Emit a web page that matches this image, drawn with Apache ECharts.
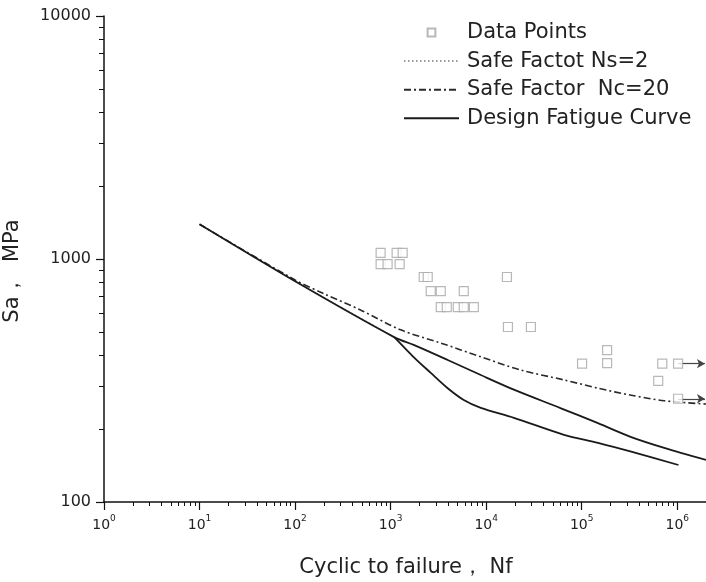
<!DOCTYPE html>
<html>
<head>
<meta charset="utf-8">
<script src="https://cdn.jsdelivr.net/npm/echarts@6/dist/echarts.min.js"></script>
<style>html,body{margin:0;padding:0;background:#fff;}#chart{width:706px;height:582px;}</style>
</head>
<body>
<div id="chart"></div>
<script>
// ---- Data ----
const dataPointsN  = [786, 1156, 1337, 786, 930, 1243, 2220, 2445, 16500, 2630, 3350, 5830, 3350, 3870, 5050, 5830, 7430, 16900, 29400, 184500, 184500, 100900, 697000, 1020000, 632000, 1020000];
const dataPointsSa = [1059, 1059, 1059, 953, 953, 953, 843, 843, 843, 738, 738, 738, 634, 634, 634, 634, 634, 525, 525, 422, 373, 371, 371, 371, 315, 266];

const runoutN   = [1020000, 1020000];
const runoutSa  = [371, 266];
const runoutEndN = 1950000;

const nsTwoN  = [10, 100, 1100];
const nsTwoSa = [1390, 810, 476];

const ncTwentyN  = [10, 100, 200, 484, 1273, 3350, 8790, 23100, 65300, 148000, 330000, 731000, 2000000];
const ncTwentySa = [1390, 820, 720, 617, 511, 451, 396, 349, 318, 294, 275, 261, 253];

const designUpperN  = [10, 100, 1100, 1742, 3960, 8790, 19500, 60700, 148000, 330000, 731000, 2000000];
const designUpperSa = [1390, 810, 476, 443, 384, 333, 290, 243, 211, 185, 167, 149];

const designLowerN  = [1100, 1742, 2630, 3960, 5830, 8790, 19500, 65300, 148000, 330000, 1030000];
const designLowerSa = [476, 395, 340, 294, 263, 244, 222, 189, 175, 161, 142];

const legendNames = ['Data Points', 'Safe Factot Ns=2', 'Safe Factor  Nc=20', 'Design Fatigue Curve'];
const xAxisName = 'Cyclic to failure， Nf';
const yAxisName = 'Sa，  MPa';

// minor tick positions (2..9 x 10^k)
const xMinor = [];
for (let k = 0; k <= 6; k++) for (let m = 2; m <= 9; m++) { const v = m * Math.pow(10, k); if (v <= 2000000) xMinor.push(v); }
const yMinor = [];
for (let k = 2; k <= 3; k++) for (let m = 2; m <= 9; m++) yMinor.push(m * Math.pow(10, k));

const pairs = (a, b) => a.map((v, i) => [v, b[i]]);
const FONT = 'DejaVu Sans';
const NOSYM = {color: 'rgba(0,0,0,0)', borderWidth: 0};

const chart = echarts.init(document.getElementById('chart'), null, {renderer: 'canvas'});
chart.setOption({
  backgroundColor: '#fff',
  animation: false,
  textStyle: {fontFamily: FONT},
  grid: {left: 104, right: 0, top: 16, bottom: 80},
  legend: {
    orient: 'vertical',
    left: 398, top: 17,
    itemWidth: 55, itemHeight: 14, itemGap: 7.6,
    textStyle: {fontFamily: FONT, fontSize: 21, color: '#222', lineHeight: 20.5, padding: [0, 0, 0, 3]},
    data: [
      {name: legendNames[0], icon: 'path://M0,0M4,4h10v10h-10zM18,18'},
      {name: legendNames[1]},
      {name: legendNames[2]},
      {name: legendNames[3]}
    ]
  },
  xAxis: [{
    type: 'log', logBase: 10, min: 1, max: 2000000,
    axisLine: {lineStyle: {color: '#111', width: 1.5}},
    axisTick: {length: 8, inside: false, lineStyle: {color: '#111', width: 1.2}},
    splitLine: {show: false},
    axisLabel: {
      margin: 12, showMaxLabel: false, color: '#222',
      formatter: function (v) {
        const l = Math.log10(v), e = Math.round(l);
        if (Math.abs(l - e) > 1e-6) return '';
        return '{b|10}{s|' + e + '}';
      },
      rich: {
        b: {fontFamily: FONT, fontSize: 14, color: '#222', lineHeight: 18, verticalAlign: 'bottom'},
        s: {fontFamily: FONT, fontSize: 9, color: '#222', lineHeight: 18, verticalAlign: 'top', padding: [0, 0, 6, 0]}
      }
    }
  }, {
    type: 'log', logBase: 10, min: 1, max: 2000000, position: 'bottom',
    axisLine: {show: false}, axisLabel: {show: false}, splitLine: {show: false},
    axisTick: {show: true, length: 4, customValues: xMinor, lineStyle: {color: '#111', width: 1}}
  }],
  yAxis: [{
    type: 'log', logBase: 10, min: 100, max: 10000, position: 'left',
    axisLine: {show: true, lineStyle: {color: '#111', width: 1.5}},
    axisTick: {show: true, length: 8, lineStyle: {color: '#111', width: 1.2}},
    splitLine: {show: false},
    axisLabel: {
      margin: 13, color: '#222', fontFamily: FONT, fontSize: 16,
      formatter: function (v) { return String(Math.round(v)); }
    }
  }, {
    type: 'log', logBase: 10, min: 100, max: 10000, position: 'left',
    axisLine: {show: false}, axisLabel: {show: false}, splitLine: {show: false},
    axisTick: {show: true, length: 5, customValues: yMinor, lineStyle: {color: '#111', width: 1}}
  }],
  graphic: [{
    type: 'text', x: 13, y: 271, rotation: Math.PI / 2,
    style: {text: yAxisName, font: '21px "DejaVu Sans"', fill: '#222', textAlign: 'center', textVerticalAlign: 'middle'}
  }, {
    type: 'text', x: 406, y: 568,
    style: {text: xAxisName, font: '21px "DejaVu Sans"', fill: '#222', textAlign: 'center', textVerticalAlign: 'middle'}
  }],
  series: [{
    name: legendNames[0], type: 'scatter',
    symbol: 'rect', symbolSize: 9, symbolKeepAspect: true,
    itemStyle: {color: '#fff', borderColor: '#a6a6a6', borderWidth: 1.2},
    data: pairs(dataPointsN, dataPointsSa),
    z: 5
  }, {
    name: 'runout', type: 'line', data: [], silent: true,
    markLine: {
      silent: true, symbol: ['none', 'arrow'], symbolSize: [7, 8],
      label: {show: false},
      lineStyle: {color: '#444', width: 1.2, type: 'solid'},
      data: runoutN.map((n, i) => [{coord: [n, runoutSa[i]]}, {coord: [runoutEndN, runoutSa[i]]}])
    }
  }, {
    name: legendNames[1], type: 'line', showSymbol: false, symbol: 'none',
    itemStyle: NOSYM,
    lineStyle: {color: '#9a9a9a', width: 1.2, type: [1.5, 2.5]},
    data: pairs(nsTwoN, nsTwoSa), z: 1
  }, {
    name: legendNames[2], type: 'line', showSymbol: false, symbol: 'none', smooth: 0.3,
    itemStyle: NOSYM,
    lineStyle: {color: '#2a2a2a', width: 1.6, type: [7, 3, 2, 3]},
    data: pairs(ncTwentyN, ncTwentySa), z: 3
  }, {
    name: legendNames[3], type: 'line', showSymbol: false, symbol: 'none', smooth: 0.3,
    itemStyle: NOSYM,
    lineStyle: {color: '#1a1a1a', width: 1.8},
    data: pairs(designUpperN, designUpperSa), z: 4
  }, {
    name: legendNames[3], type: 'line', showSymbol: false, symbol: 'none', smooth: 0.3,
    itemStyle: NOSYM,
    lineStyle: {color: '#1a1a1a', width: 1.8},
    data: pairs(designLowerN, designLowerSa), z: 4
  }]
});
</script>
</body>
</html>
